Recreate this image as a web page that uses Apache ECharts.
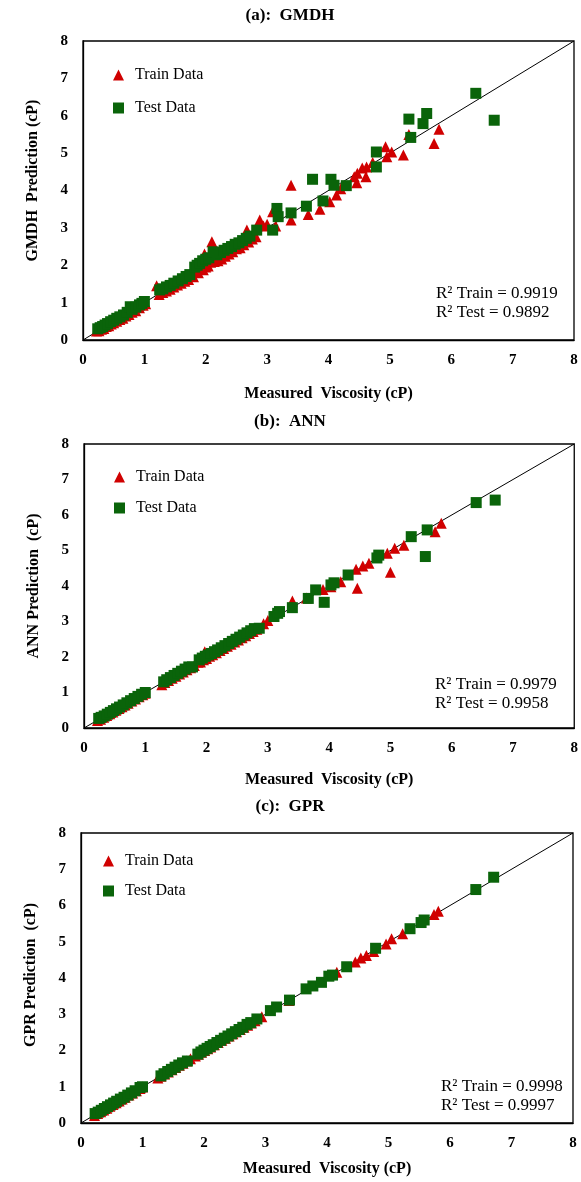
<!DOCTYPE html>
<html>
<head>
<meta charset="utf-8">
<script src="https://cdn.jsdelivr.net/npm/echarts@6/dist/echarts.min.js"></script>
<style>html,body{margin:0;padding:0;background:#fff;}#c{width:581px;height:1182px;}</style>
</head>
<body>
<div id="c"></div>
<script>
// ---------- data ----------
const ticks = [0,1,2,3,4,5,6,7,8];
const diagonal = [[0,0],[8,8]];

const gmdhTrain = [[0.22,0.24],[0.26,0.25],[0.3,0.29],[0.34,0.31],[0.38,0.36],[0.42,0.38],[0.46,0.43],[0.5,0.46],[0.55,0.5],[0.6,0.55],[0.65,0.58],[0.7,0.64],[0.75,0.68],[0.8,0.74],[0.86,0.78],[0.92,0.86],[0.98,0.93],[1.02,0.97],
[1.2,1.45],[1.24,1.22],[1.3,1.27],[1.36,1.31],[1.42,1.36],[1.48,1.42],[1.54,1.47],[1.6,1.52],[1.66,1.57],[1.72,1.62],[1.8,1.69],
[1.84,1.86],[1.88,1.8],[1.92,1.9],[1.96,1.88],[1.98,2.3],[2.0,1.95],[2.04,1.98],[2.08,2.08],[2.1,2.63],[2.14,2.1],[2.2,2.12],[2.26,2.17],[2.32,2.24],[2.38,2.3],[2.44,2.36],[2.5,2.44],[2.56,2.47],[2.62,2.55],[2.67,2.94],[2.7,2.62],[2.76,2.7],[2.82,2.76],[2.88,3.21],[2.94,3.05],[3.0,3.1],[3.09,3.43],[3.14,3.05],
[3.39,4.14],[3.39,3.21],[3.67,3.36],[3.86,3.5],[4.02,3.7],[4.13,3.88],[4.2,4.05],[4.42,4.37],[4.46,4.21],[4.47,4.46],[4.55,4.6],[4.61,4.37],[4.62,4.63],[4.72,4.75],[4.93,5.17],[4.95,4.9],[5.03,5.03],[5.22,4.95],[5.31,5.5],[5.72,5.26],[5.8,5.64]];
const gmdhTest = [[0.24,0.3],[0.28,0.33],[0.32,0.36],[0.36,0.4],[0.4,0.44],[0.45,0.49],[0.5,0.53],[0.55,0.58],[0.6,0.62],[0.66,0.67],[0.72,0.74],[0.77,0.89],[0.8,0.82],[0.86,0.88],[0.92,0.94],[0.96,0.98],[1.0,1.03],
[1.25,1.34],[1.3,1.37],[1.36,1.42],[1.42,1.46],[1.48,1.52],[1.55,1.58],[1.62,1.64],[1.68,1.7],[1.74,1.75],
[1.82,1.95],[1.86,2.0],[1.9,2.05],[1.95,2.12],[2.0,2.16],[2.05,2.2],[2.12,2.36],[2.18,2.28],[2.24,2.34],[2.3,2.4],[2.36,2.45],[2.42,2.5],[2.48,2.56],[2.54,2.6],[2.6,2.66],[2.66,2.72],[2.72,2.78],[2.83,2.94],
[3.09,2.94],[3.16,3.52],[3.18,3.3],[3.39,3.4],[3.64,3.58],[3.74,4.3],[3.91,3.72],[4.04,4.3],[4.09,4.14],[4.29,4.13],[4.78,5.03],[4.78,4.63],[5.31,5.91],[5.34,5.42],[5.54,5.79],[5.6,6.06],[6.4,6.6],[6.7,5.88]];

const annTrain = [[0.22,0.21],[0.27,0.25],[0.32,0.3],[0.37,0.35],[0.42,0.4],[0.47,0.45],[0.52,0.5],[0.57,0.55],[0.62,0.6],[0.67,0.65],[0.72,0.7],[0.78,0.76],[0.84,0.82],[0.9,0.88],[0.96,0.94],[1.0,0.98],
[1.27,1.22],[1.32,1.28],[1.38,1.34],[1.44,1.4],[1.5,1.46],[1.56,1.52],[1.62,1.58],[1.68,1.64],[1.74,1.7],[1.8,1.76],
[1.86,1.85],[1.9,1.86],[1.95,1.92],[1.97,2.15],[2.0,1.96],[2.05,2.02],[2.1,2.06],[2.16,2.12],[2.22,2.18],[2.28,2.24],[2.34,2.3],[2.4,2.36],[2.46,2.42],[2.52,2.48],[2.58,2.54],[2.64,2.6],[2.7,2.66],[2.76,2.72],[2.82,2.78],[2.93,2.94],[3.0,3.03],
[3.4,3.58],[3.63,3.66],[3.9,3.9],[4.03,3.98],[4.19,4.12],[4.44,4.47],[4.46,3.94],[4.55,4.56],[4.65,4.64],[4.95,4.92],[5.0,4.39],[5.07,5.06],[5.22,5.15],[5.73,5.53],[5.83,5.77]];
const annTest = [[0.24,0.27],[0.28,0.3],[0.33,0.34],[0.38,0.39],[0.43,0.44],[0.48,0.49],[0.53,0.54],[0.58,0.59],[0.64,0.65],[0.7,0.71],[0.76,0.77],[0.82,0.83],[0.88,0.89],[0.94,0.95],[1.0,1.0],
[1.3,1.3],[1.35,1.36],[1.41,1.42],[1.47,1.48],[1.53,1.54],[1.59,1.6],[1.65,1.66],[1.71,1.72],[1.77,1.72],
[1.88,1.92],[1.93,1.97],[1.98,2.02],[2.03,2.06],[2.08,2.1],[2.13,2.15],[2.18,2.2],[2.24,2.26],[2.3,2.32],[2.36,2.38],[2.42,2.44],[2.48,2.5],[2.54,2.56],[2.6,2.62],[2.66,2.68],[2.72,2.74],[2.78,2.8],[2.86,2.81],
[3.1,3.14],[3.16,3.23],[3.19,3.28],[3.4,3.39],[3.66,3.65],[3.78,3.89],[3.92,3.54],[4.03,4.03],[4.08,4.09],[4.31,4.31],[4.78,4.79],[4.81,4.87],[5.34,5.39],[5.57,4.83],[5.6,5.58],[6.4,6.35],[6.71,6.42]];

const gprTrain = [[0.22,0.21],[0.27,0.26],[0.32,0.31],[0.37,0.36],[0.42,0.41],[0.47,0.46],[0.52,0.51],[0.57,0.56],[0.62,0.61],[0.67,0.66],[0.72,0.71],[0.78,0.77],[0.84,0.83],[0.9,0.89],[0.96,0.95],[1.0,0.99],
[1.25,1.24],[1.3,1.29],[1.36,1.35],[1.42,1.41],[1.48,1.47],[1.54,1.53],[1.6,1.59],[1.66,1.65],[1.72,1.71],[1.78,1.77],
[1.86,1.85],[1.91,1.9],[1.96,1.95],[2.01,2.0],[2.06,2.05],[2.11,2.1],[2.17,2.16],[2.23,2.22],[2.29,2.28],[2.35,2.34],[2.41,2.4],[2.47,2.46],[2.53,2.52],[2.59,2.58],[2.65,2.64],[2.71,2.7],[2.77,2.76],[2.83,2.82],[2.94,2.93],[3.38,3.38],
[4.16,4.16],[4.46,4.44],[4.55,4.55],[4.64,4.62],[4.76,4.73],[4.96,4.94],[5.05,5.08],[5.23,5.22],[5.74,5.75],[5.81,5.84]];
const gprTest = [[0.23,0.26],[0.28,0.3],[0.33,0.35],[0.38,0.4],[0.43,0.45],[0.48,0.5],[0.53,0.55],[0.58,0.6],[0.64,0.66],[0.7,0.71],[0.76,0.77],[0.82,0.83],[0.88,0.89],[0.96,0.98],[1.0,1.0],
[1.3,1.3],[1.35,1.36],[1.41,1.42],[1.47,1.48],[1.53,1.54],[1.59,1.6],[1.65,1.66],[1.73,1.71],
[1.9,1.9],[1.95,1.96],[2.0,2.01],[2.05,2.06],[2.1,2.11],[2.15,2.16],[2.21,2.22],[2.27,2.28],[2.33,2.34],[2.39,2.4],[2.45,2.46],[2.51,2.52],[2.57,2.58],[2.63,2.64],[2.7,2.72],[2.76,2.77],[2.86,2.87],
[3.08,3.1],[3.18,3.2],[3.39,3.39],[3.66,3.7],[3.77,3.78],[3.91,3.88],[4.03,4.05],[4.09,4.08],[4.32,4.31],[4.79,4.82],[5.35,5.36],[5.53,5.53],[5.58,5.6],[6.42,6.44],[6.71,6.78]];

const panelTitles = ['(a):  GMDH', '(b):  ANN', '(c):  GPR'];
const yNames = ['GMDH  Prediction (cP)', 'ANN Prediction  (cP)', 'GPR Prediction  (cP)'];
const xName = 'Measured  Viscosity (cP)';
const r2Texts = ['R² Train = 0.9919\nR² Test = 0.9892', 'R² Train = 0.9979\nR² Test = 0.9958', 'R² Train = 0.9998\nR² Test = 0.9997'];
const trainSets = [gmdhTrain, annTrain, gprTrain];
const testSets = [gmdhTest, annTest, gprTest];

// ---------- layout ----------
const FONT = '"Liberation Serif", "Times New Roman", serif';
const RED = '#d00000', GREEN = '#0a640a';
const grids = [
  {left: 83, top: 41, width: 491, height: 299},
  {left: 84, top: 444, width: 492, height: 284},
  {left: 81, top: 833, width: 492, height: 290}
];
const titleTops = [7, 413, 798];
const xNameGaps = [46, 44, 38];
const yNamePads = [[0, 0, 0, 20], [0, 0, 0, 0], [0, 0, 0, 6]];
const legendPos = [{left: 113, top: 67, gap: 17}, {left: 114, top: 469, gap: 15}, {left: 103, top: 853, gap: 14}];
const r2Pos = [{left: 436, top: 284}, {left: 435, top: 675}, {left: 441, top: 1077}];

const option = {
  backgroundColor: '#fff',
  animation: false,
  title: [],
  legend: [],
  grid: [],
  xAxis: [],
  yAxis: [],
  series: []
};

grids.forEach((g, i) => {
  option.grid.push({left: g.left, top: g.top, width: g.width, height: g.height, show: true, borderColor: '#000', borderWidth: 1.3, backgroundColor: '#fff'});
  option.title.push({text: panelTitles[i], left: 290, top: titleTops[i], textAlign: 'center', padding: 0,
    textStyle: {fontFamily: FONT, fontWeight: 'bold', fontSize: 17, color: '#000'}});
  option.title.push({text: r2Texts[i], left: r2Pos[i].left, top: r2Pos[i].top, padding: 0,
    textStyle: {fontFamily: FONT, fontWeight: 'normal', fontSize: 17, lineHeight: 19, color: '#000'}});
  const axisCommon = {
    min: 0, max: 8, interval: 1, gridIndex: i,
    axisLine: {show: true, lineStyle: {color: '#000', width: 1.3}},
    axisTick: {show: false},
    splitLine: {show: false},
    axisLabel: {fontFamily: FONT, fontWeight: 'bold', fontSize: 15, color: '#000', margin: 13},
    nameLocation: 'middle',
    nameTextStyle: {fontFamily: FONT, fontWeight: 'bold', fontSize: 16, color: '#000'}
  };
  option.xAxis.push(Object.assign({}, axisCommon, {type: 'value', name: xName, nameGap: xNameGaps[i]}));
  option.yAxis.push(Object.assign({}, axisCommon, {type: 'value', name: yNames[i], nameGap: 42,
    nameTextStyle: Object.assign({}, axisCommon.nameTextStyle, {padding: yNamePads[i]}),
    axisLabel: Object.assign({}, axisCommon.axisLabel, {margin: 15})}));
  option.legend.push({
    show: true, orient: 'vertical', left: legendPos[i].left, top: legendPos[i].top, itemGap: legendPos[i].gap,
    itemWidth: 11, itemHeight: 11, padding: 0, selectedMode: false,
    textStyle: {fontFamily: FONT, fontSize: 16, color: '#000', padding: [0, 0, 0, 6]},
    data: [{name: 'Train Data', icon: 'triangle', itemStyle: {color: RED}}, {name: 'Test Data', icon: 'rect', itemStyle: {color: GREEN}}]
  });
  option.series.push({type: 'line', xAxisIndex: i, yAxisIndex: i, data: diagonal, symbol: 'none',
    lineStyle: {color: '#000', width: 1}, z: 1, silent: true});
  option.series.push({name: 'Train Data', type: 'scatter', xAxisIndex: i, yAxisIndex: i, data: trainSets[i],
    symbol: 'triangle', symbolSize: 11, itemStyle: {color: RED, opacity: 1}, z: 2});
  option.series.push({name: 'Test Data', type: 'scatter', xAxisIndex: i, yAxisIndex: i, data: testSets[i],
    symbol: 'rect', symbolSize: 11, itemStyle: {color: GREEN, opacity: 1}, z: 3});
});

const chart = echarts.init(document.getElementById('c'), null, {renderer: 'canvas'});
chart.setOption(option);
</script>
</body>
</html>
